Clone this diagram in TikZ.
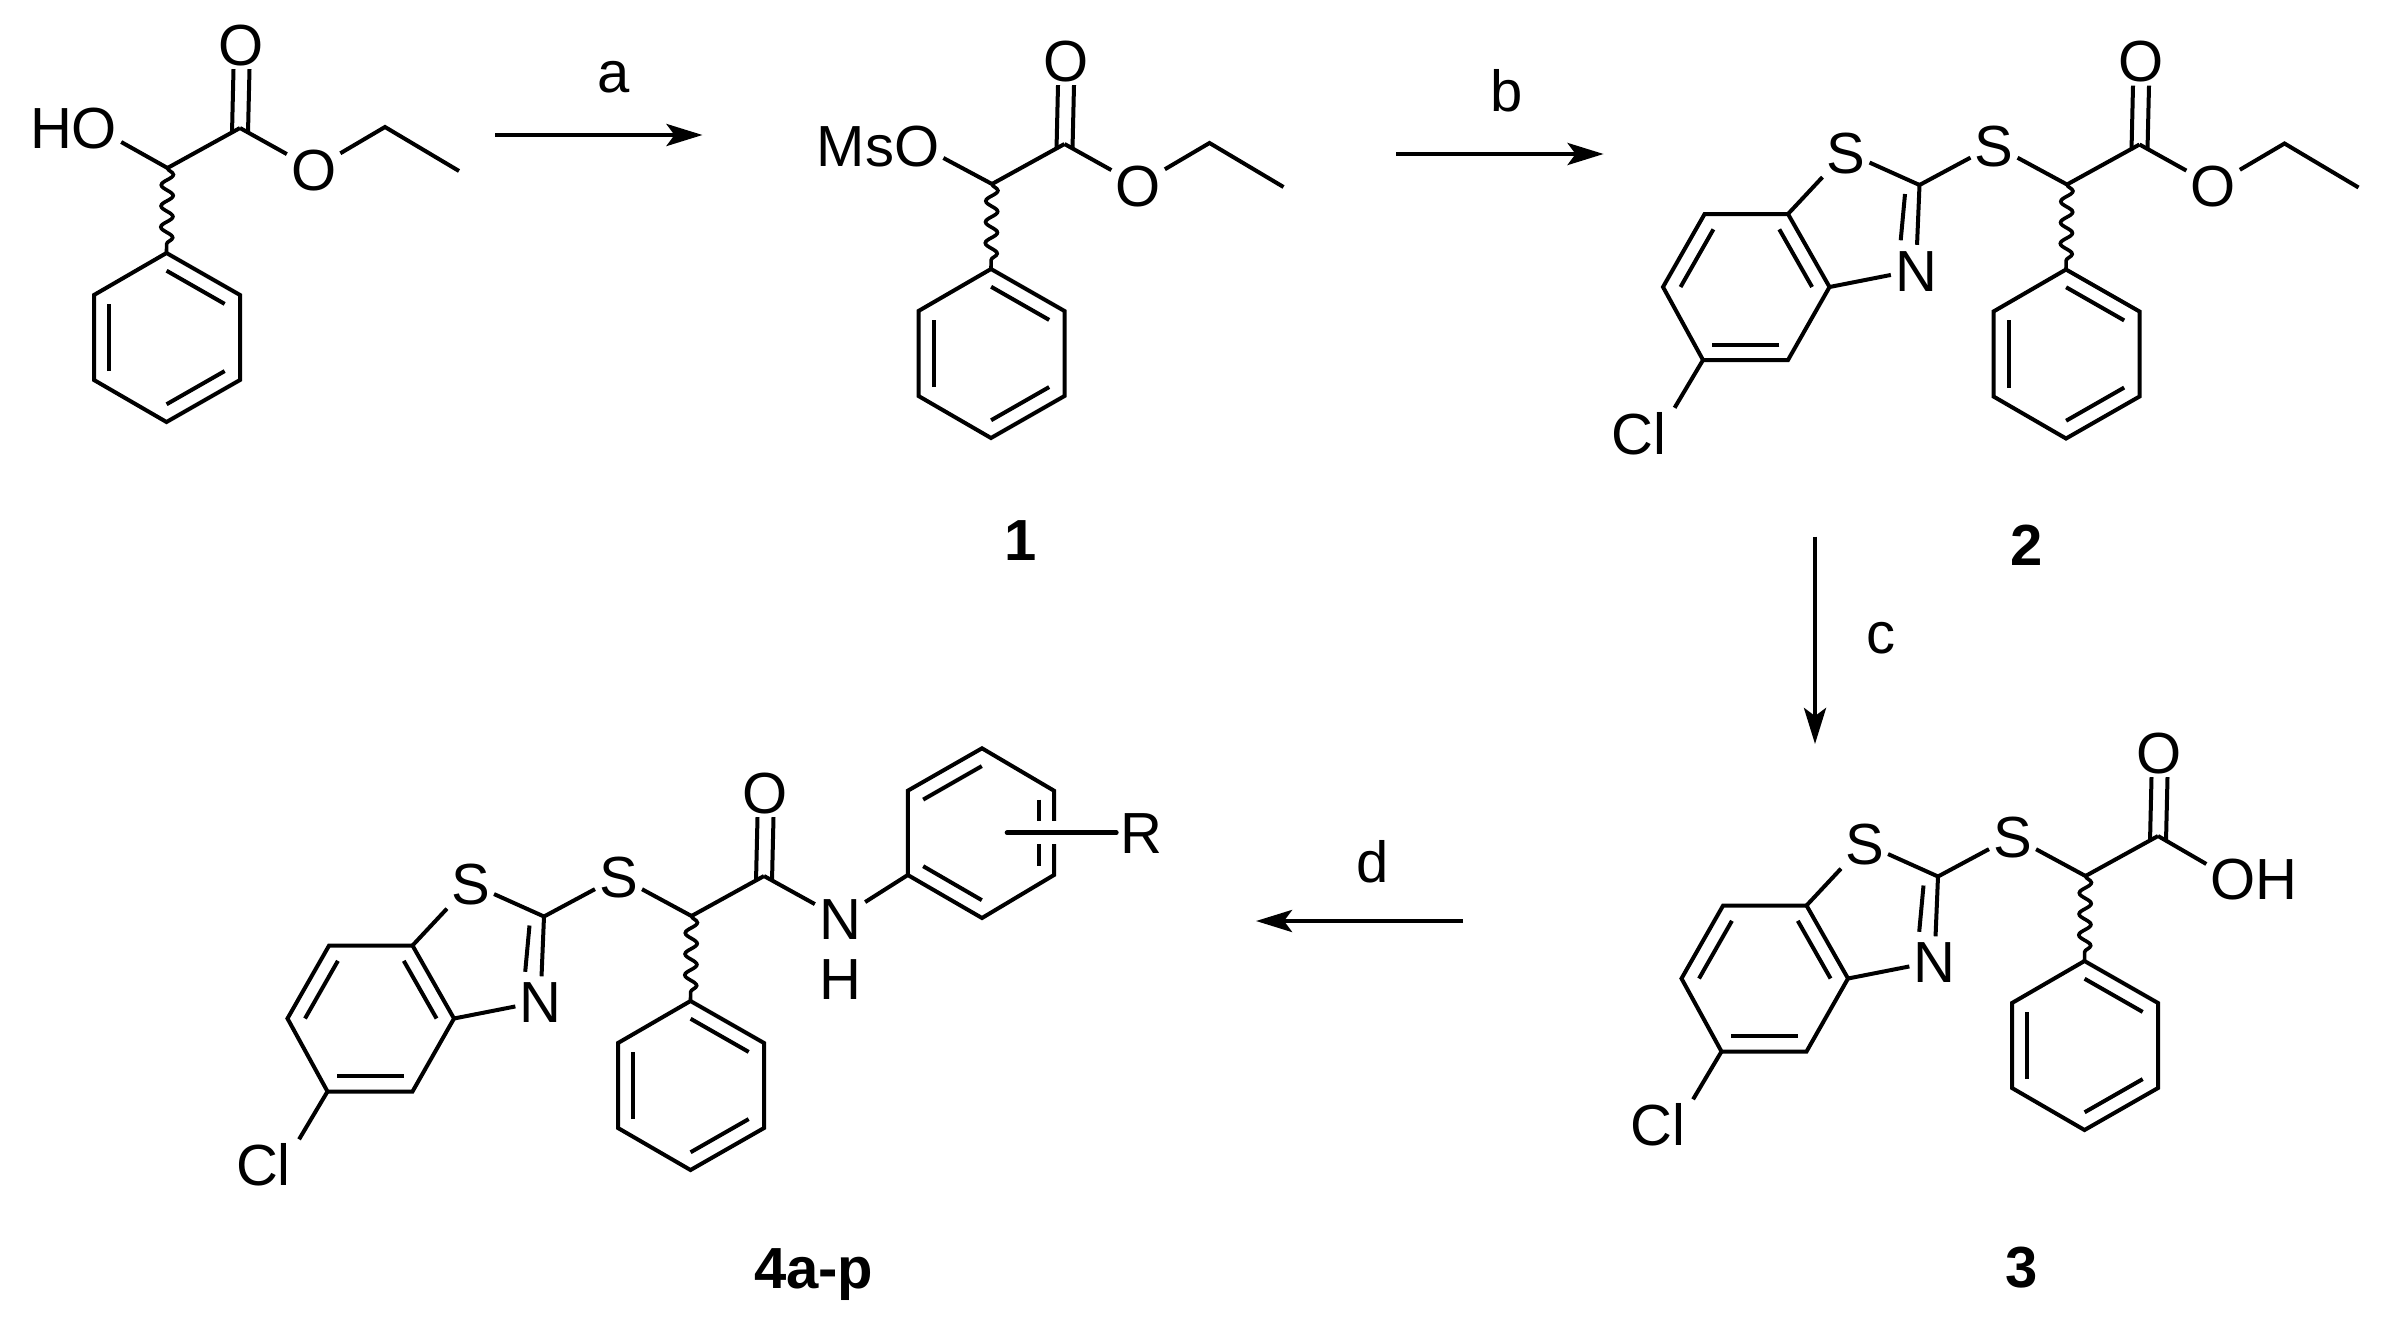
\documentclass[tikz,border=0pt]{standalone}
\usepackage{fontspec}
\setmainfont{Liberation Sans}
\usetikzlibrary{arrows.meta,calc,decorations.pathmorphing}
\tikzset{
  bondline/.style={line width=4pt,line join=miter},
  wavy/.style={line width=3.6pt,decorate,decoration={snake,segment length=21pt,amplitude=6pt}},
  atom/.style={font=\fontsize{58}{58}\selectfont,inner sep=4pt,text height=42pt,text depth=0pt},
  steplabel/.style={font=\fontsize{58}{58}\selectfont,inner sep=0pt,text height=42pt,text depth=0pt},
  compound/.style={font=\fontsize{58}{58}\selectfont\bfseries,inner sep=0pt,text height=42pt,text depth=0pt},
  rxn/.style={line width=4.4pt,-{Stealth[length=36pt,width=22pt,inset=8pt]}}
}
% inner line of an aromatic double bond: ring centre, two ring atoms
\newcommand{\innerbond}[3]{\draw[bondline] ($(#1)!.79!(#2)$) -- ($(#1)!.79!(#3)$);}
% alpha carbon, carbonyl and phenyl ring; coordinates of the first molecule
\newcommand{\phenylunit}[2]{%
  \begin{scope}[shift={(#2)}]
    \coordinate (#1ca) at (167.5,168);
    \coordinate (#1cc) at (240,128);
    \node[atom] (#1o) at (241.5,44) {O};
    \coordinate (#1p1) at (166.5,253);
    \coordinate (#1p2) at (240,295);
    \coordinate (#1p3) at (240,380);
    \coordinate (#1p4) at (166.5,422);
    \coordinate (#1p5) at (94,380);
    \coordinate (#1p6) at (94,295);
    \coordinate (#1pc) at (167,337.5);
  \end{scope}
  \draw[bondline] (#1ca) -- (#1cc);
  \draw[bondline] ([shift={(-8,5.5)}]#1cc) -- ([xshift=-8pt]#1o.south);
  \draw[bondline] ([shift={(8,5)}]#1cc) -- ([xshift=8pt]#1o.south);
  \draw[wavy] (#1ca) -- (#1p1);
  \draw[bondline] (#1p1) -- (#1p2) -- (#1p3) -- (#1p4) -- (#1p5) -- (#1p6) -- cycle;
  \innerbond{#1pc}{#1p1}{#1p2}
  \innerbond{#1pc}{#1p3}{#1p4}
  \innerbond{#1pc}{#1p5}{#1p6}
}
% ethyl ester
\newcommand{\estertail}[2]{%
  \begin{scope}[shift={(#2)}]
    \node[atom] (#1eo) at (313.6,169) {O};
    \coordinate (#1ch) at (385,127);
    \coordinate (#1me) at (459,171);
  \end{scope}
  \draw[bondline] (#1cc) -- (#1eo);
  \draw[bondline] (#1eo) -- (#1ch) -- (#1me);
}
% 5-chlorobenzothiazol-2-ylthio group; coordinates of molecule 2
\newcommand{\benzothiazole}[2]{%
  \begin{scope}[shift={(#2)}]
    \node[atom] (#1s) at (1846,152) {S};
    \node[atom] (#1sx) at (1994,145) {S};
    \node[atom] (#1n) at (1916,270) {N};
    \node[atom] (#1cl) at (1639,433) {Cl};
    \coordinate (#1c2) at (1919.5,185);
    \coordinate (#1a7) at (1788,214);
    \coordinate (#1a3) at (1829.5,287);
    \coordinate (#1b4) at (1788,360);
    \coordinate (#1b5) at (1703,360);
    \coordinate (#1b6) at (1663,287);
    \coordinate (#1b7) at (1704.6,214);
    \coordinate (#1bc) at (1746.5,287);
  \end{scope}
  \draw[bondline] (#1a7) -- (#1a3) -- (#1b4) -- (#1b5) -- (#1b6) -- (#1b7) -- cycle;
  \innerbond{#1bc}{#1a7}{#1a3}
  \innerbond{#1bc}{#1b4}{#1b5}
  \innerbond{#1bc}{#1b6}{#1b7}
  \draw[bondline] (#1a7) -- (#1s);
  \draw[bondline] (#1s) -- (#1c2);
  \draw[bondline] (#1c2) -- (#1n);
  \draw[bondline] ([shift={(-14.5,9)}]#1c2) -- ([shift={(-15.3,-4.5)}]#1n.north);
  \draw[bondline] (#1a3) -- (#1n);
  \draw[bondline] (#1c2) -- (#1sx);
  \draw[bondline] (#1b5) -- ([xshift=4pt]#1cl.north east);
  \draw[bondline] (#1sx) -- (#1ca);
}
\begin{document}
\begin{tikzpicture}[x=1pt,y=-1pt]
\useasboundingbox (0,0) rectangle (2382,1317);
% starting material
\phenylunit{A}{0,0}
\estertail{A}{0,0}
\node[atom] (ho) at (73.5,127) {HO};
\draw[bondline] (Aca) -- ([yshift=-15pt]ho.east);
% compound 1
\phenylunit{B}{824.5,16}
\estertail{B}{824.5,16}
\node[atom] (mso) at (878,145) {MsO};
\draw[bondline] (Bca) -- ([yshift=-13pt]mso.east);
\node[compound] (l1) at (1021,539) {1};
% compound 2
\phenylunit{C}{1899.5,16.5}
\estertail{C}{1899.5,16.5}
\benzothiazole{C}{0,0}
\node[compound] (l2) at (2027,544) {2};
% compound 3
\phenylunit{D}{1918,708}
\benzothiazole{D}{18.5,691.5}
\node[atom] (oh) at (2254,878) {OH};
\draw[bondline] (Dcc) -- ([yshift=14pt]oh.west);
\node[compound] (l3) at (2022,1266) {3};
% compounds 4a-p
\phenylunit{E}{524,748}
\benzothiazole{E}{-1375.5,731.5}
\node[atom] (nn) at (840,918) {N};
\node[atom] (nh) at (840,978) {H};
\draw[bondline] (Ecc) -- (nn);
\coordinate (q1) at (907.8,875);
\coordinate (q2) at (907.8,790.7);
\coordinate (q3) at (982,748.3);
\coordinate (q4) at (1054,790.7);
\coordinate (q5) at (1054,875);
\coordinate (q6) at (982,918);
\coordinate (qc) at (981,833);
\draw[bondline] (nn) -- (q1);
\draw[bondline] (q1) -- (q2) -- (q3) -- (q4) -- (q5) -- (q6) -- cycle;
\innerbond{qc}{q2}{q3}
\innerbond{qc}{q4}{q5}
\innerbond{qc}{q6}{q1}
\node[atom] (rr) at (1141.5,832.7) {R};
\coordinate (rs) at (1007,832.7);
\coordinate (gapa) at (1033,832.7);
\coordinate (gapb) at (1060,832.7);
\draw[white,line width=23pt] (gapa) -- (gapb);
\draw[line width=4.6pt,line cap=round] (rs) -- (rr);
\node[compound] (l4) at (813.8,1267) {4a-p};
% reaction arrows
\coordinate (a1) at (495,135);
\coordinate (a2) at (702.5,135);
\draw[rxn] (a1) -- (a2);
\node[steplabel] (la) at (614,71.5) {a};
\coordinate (b1) at (1396,154);
\coordinate (b2) at (1603.6,154);
\draw[rxn] (b1) -- (b2);
\node[steplabel] (lb) at (1507,90.5) {b};
\coordinate (c1) at (1815,536.5);
\coordinate (c2) at (1815,744);
\draw[rxn] (c1) -- (c2);
\node[steplabel] (lc) at (1880.5,632) {c};
\coordinate (d1) at (1463,921);
\coordinate (d2) at (1256,921);
\draw[rxn] (d1) -- (d2);
\node[steplabel] (ld) at (1373,861) {d};
\end{tikzpicture}
\end{document}
